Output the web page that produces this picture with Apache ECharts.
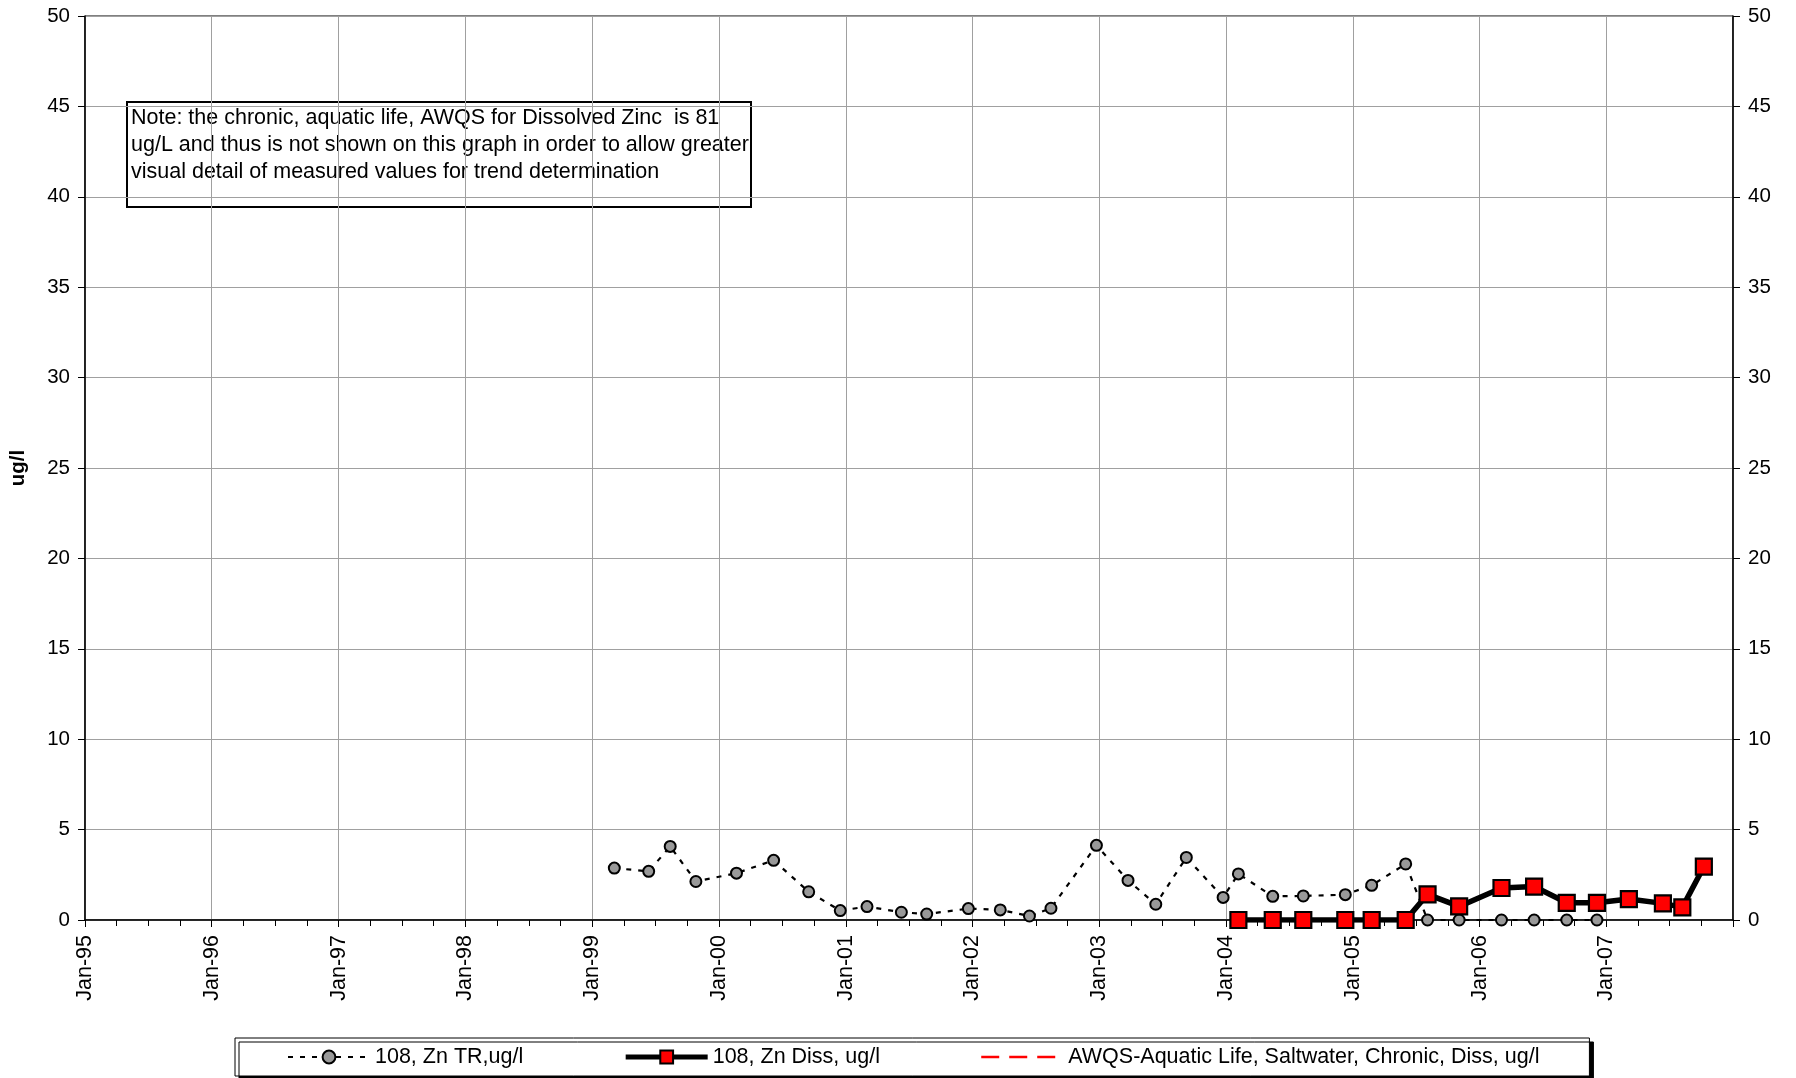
<!DOCTYPE html>
<html><head><meta charset="utf-8">
<script src="https://cdn.jsdelivr.net/npm/echarts@6/dist/echarts.min.js"></script>
<style>html,body{margin:0;padding:0;background:#fff}#c{width:1796px;height:1078px}</style>
</head><body><div id="c"></div>
<script>
const seriesNames = ['108, Zn TR,ug/l', '108, Zn Diss, ug/l', 'AWQS-Aquatic Life, Saltwater, Chronic, Diss, ug/l'];
const trDates = ['1999-03-06','1999-06-13','1999-08-14','1999-10-27','2000-02-21','2000-06-07','2000-09-16','2000-12-16',
  '2001-03-03','2001-06-10','2001-08-22','2001-12-20','2002-03-22','2002-06-14','2002-08-15','2002-12-24',
  '2003-03-25','2003-06-13','2003-09-09','2003-12-24','2004-02-06','2004-05-15','2004-08-11','2004-12-10',
  '2005-02-24','2005-06-02','2005-08-04','2005-11-03','2006-03-05','2006-06-07','2006-09-09','2006-12-05'];
const trValues = [2.87,2.69,4.07,2.13,2.59,3.30,1.56,0.52,
  0.74,0.43,0.33,0.63,0.56,0.22,0.65,4.13,
  2.19,0.87,3.46,1.25,2.55,1.31,1.33,1.40,
  1.92,3.10,0,0,0,0,0,0];
const dissDates = ['2004-02-06','2004-05-15','2004-08-11','2004-12-10','2005-02-24','2005-06-02','2005-08-04','2005-11-03',
  '2006-03-05','2006-06-07','2006-09-09','2006-12-05','2007-03-07','2007-06-13','2007-08-08','2007-10-09'];
const dissValues = [0,0,0,0,0,0,1.42,0.75,1.77,1.85,0.95,0.95,1.16,0.92,0.70,2.95];
const awqsDates = [];
const awqsValues = [];
const xStart = '1995-01-01';
const xEnd = '2008-01-01';
const yMin = 0, yMax = 50, yStep = 5;
const yTitle = 'ug/l';
const noteLines = [
  'Note: the chronic, aquatic life, AWQS for Dissolved Zinc  is 81',
  'ug/L and thus is not shown on this graph in order to allow greater',
  'visual detail of measured values for trend determination'
];

const FONT = '"Liberation Sans", Arial, sans-serif';
const pair = (d, v) => d.map((x, i) => [x, v[i]]);
const chart = echarts.init(document.getElementById('c'), null, {renderer: 'canvas'});
const yAxisCommon = {
  type: 'value', min: yMin, max: yMax, interval: yStep,
  axisLine: {show: true, lineStyle: {color: '#000', width: 1.5}},
  axisTick: {show: true, length: 7, lineStyle: {color: '#000'}},
  axisLabel: {color: '#000', fontSize: 20.5, fontFamily: FONT, margin: 15}
};
chart.setOption({
  animation: false,
  backgroundColor: '#fff',
  grid: {left: 83, right: 63, top: 16, bottom: 158, show: true, borderColor: '#000', borderWidth: 1, containLabel: false},
  xAxis: {
    type: 'time', min: xStart, max: xEnd,
    minInterval: 365 * 864e5, maxInterval: 366 * 864e5,
    axisLine: {lineStyle: {color: '#000', width: 1.5}},
    axisTick: {show: true, length: 7, lineStyle: {color: '#000'}},
    minorTick: {show: true, splitNumber: 4, length: 6, lineStyle: {color: '#000'}},
    splitLine: {show: true, lineStyle: {color: '#a0a0a0', width: 1}},
    axisLabel: {
      rotate: 90, color: '#000', fontSize: 21.5, fontFamily: FONT, margin: 15,
      showMaxLabel: false, hideOverlap: false,
      formatter: v => 'Jan-' + String(new Date(v).getFullYear()).slice(2)
    }
  },
  yAxis: [
    Object.assign({}, yAxisCommon, {
      position: 'left', name: yTitle, nameLocation: 'middle', nameGap: 56,
      nameTextStyle: {color: '#000', fontSize: 20.5, fontWeight: 'bold', fontFamily: FONT},
      splitLine: {show: true, lineStyle: {color: '#a0a0a0', width: 1}}
    }),
    Object.assign({}, yAxisCommon, {position: 'right', splitLine: {show: false}})
  ],
  legend: {
    data: [
      {name: seriesNames[0]},
      {name: seriesNames[1], lineStyle: {width: 5}},
      {name: seriesNames[2], itemStyle: {opacity: 0}, lineStyle: {width: 2.5, type: [18, 10]}}
    ],
    left: 235, top: 1038,
    padding: [8, 50, 8, 52], itemGap: 100, itemWidth: 82, itemHeight: 16,
    textStyle: {color: '#000', fontSize: 21.5, fontFamily: FONT},
    backgroundColor: '#fff', borderColor: '#000', borderWidth: 1,
    shadowColor: '#000', shadowBlur: 0, shadowOffsetX: 4, shadowOffsetY: 4
  },
  series: [
    {
      name: seriesNames[0], type: 'line', data: pair(trDates, trValues), z: 3,
      symbol: 'circle', symbolSize: 11,
      lineStyle: {color: '#000', width: 2.2, type: [5, 7]},
      itemStyle: {color: '#999', borderColor: '#000', borderWidth: 2}
    },
    {
      name: seriesNames[1], type: 'line', data: pair(dissDates, dissValues), z: 4,
      symbol: 'rect', symbolSize: 16,
      lineStyle: {color: '#000', width: 5.5},
      itemStyle: {color: '#ff0000', borderColor: '#000', borderWidth: 2.2}
    },
    {
      name: seriesNames[2], type: 'line', data: pair(awqsDates, awqsValues), z: 2,
      symbol: 'none',
      lineStyle: {color: '#ff0000', width: 2.5, type: [18, 10]},
      itemStyle: {color: '#ff0000'}
    }
  ],
  graphic: [{
    type: 'group', left: 126, top: 101, z: 100,
    children: [
      {type: 'rect', shape: {x: 0, y: 0, width: 624, height: 105}, style: {fill: '#fff', stroke: '#000', lineWidth: 2}},
      {type: 'text', x: 4, y: 3, style: {text: noteLines.join('\n'), font: '21.5px ' + FONT, lineHeight: 27, fill: '#000'}}
    ]
  }]
});
</script></body></html>
